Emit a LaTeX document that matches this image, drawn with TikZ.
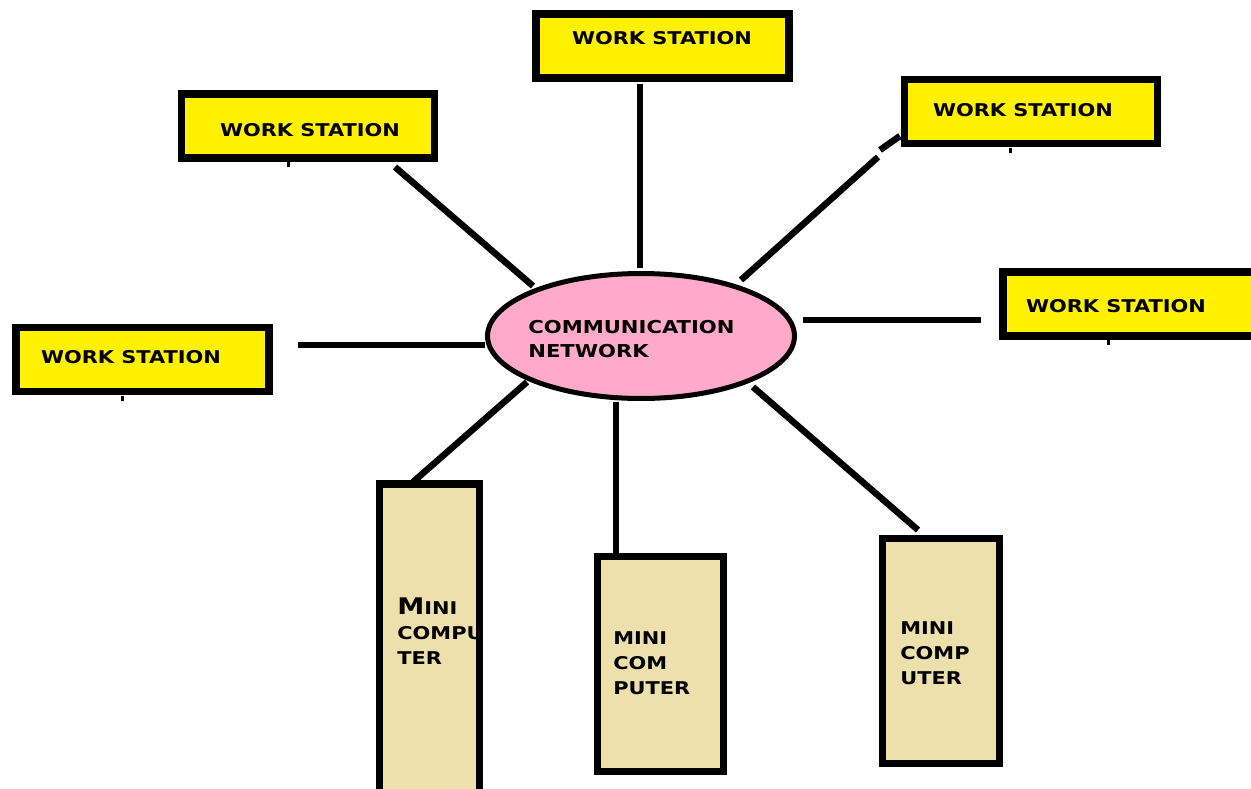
\documentclass[tikz,border=0pt]{standalone}
\usepackage{fontspec}
\usetikzlibrary{shapes.geometric}
\newfontfamily\capsfont[FakeStretch=1.19]{DejaVu Sans}
\definecolor{wsyellow}{HTML}{FFF100}
\definecolor{netpink}{HTML}{FFAAC8}
\definecolor{mctan}{HTML}{EEE0AD}
\tikzset{
  wsbox/.style={draw,line width=0.15cm,fill=wsyellow,minimum width=5.06cm,minimum height=1.28cm,inner sep=0pt},
  mcbox/.style={draw,line width=0.15cm,fill=mctan,inner sep=0pt},
  lbl/.style={font=\capsfont\bfseries\fontsize{10}{14.2}\selectfont,inner sep=0pt,align=left},
  wire/.style={line width=0.13cm},
  tick/.style={line width=0.06cm}
}
\begin{document}
\begin{tikzpicture}[x=0.02cm,y=-0.02cm]
   \useasboundingbox (0,0) rectangle (1251,788);
   \clip (0,0) rectangle (1251,788);
   % work stations
   \node[wsbox] (ws1) at (662.5,46) {};
   \node[wsbox] (ws2) at (308,126) {};
   \node[wsbox] (ws3) at (1031,111.5) {};
   \node[wsbox] (ws4) at (1129.5,304) {};
   \node[wsbox] (ws5) at (142.5,359.5) {};
   \node[lbl] (t1) at (662,38) {WORK STATION};
   \node[lbl] (t2) at (310,130) {WORK STATION};
   \node[lbl] (t3) at (1023,110) {WORK STATION};
   \node[lbl] (t4) at (1116,306) {WORK STATION};
   \node[lbl] (t5) at (131,357) {WORK STATION};
   % small marks under the boxes
   \draw[tick] (288,162) -- (288,167);
   \draw[tick] (122,396) -- (122,401);
   \draw[tick] (1010,148) -- (1010,153);
   \draw[tick] (1108,340) -- (1108,345);
   % network
   \node[draw,ellipse,line width=0.1cm,fill=netpink,minimum width=6.14cm,minimum height=2.5cm,inner sep=0pt] (net) at (641,336) {};
   \node[lbl,anchor=west,font=\capsfont\bfseries\fontsize{10.1}{13.6}\selectfont] (tnet) at (528,339) {COMMUNICATION\\NETWORK};
   % mini computers
   \node[mcbox,minimum width=2cm,minimum height=6.4cm] (mc1) at (429.5,644) {};
   \node[mcbox,minimum width=2.52cm,minimum height=4.3cm] (mc2) at (660.5,664) {};
   \node[mcbox,minimum width=2.34cm,minimum height=4.5cm] (mc3) at (941,651) {};
   \node[lbl,anchor=west] (tm1) at (397,631) {{\fontsize{13}{14}\selectfont M}INI\\COMPU\\TER};
   \node[lbl,anchor=west] (tm2) at (613,663) {MINI\\COM\\PUTER};
   \node[lbl,anchor=west] (tm3) at (900,653) {MINI\\COMP\\UTER};
   % connectors
   \coordinate (a1) at (640,84);   \coordinate (b1) at (640,268);
   \coordinate (a2) at (395,167);  \coordinate (b2) at (533,286);
   \coordinate (a3) at (878,157);  \coordinate (b3) at (741,280);
   \coordinate (a4) at (981,320);  \coordinate (b4) at (803,320);
   \coordinate (a5) at (298,345);  \coordinate (b5) at (485,345);
   \coordinate (a6) at (413,482);  \coordinate (b6) at (527,382);
   \coordinate (a7) at (616,553);  \coordinate (b7) at (616,402);
   \coordinate (a8) at (918,530);  \coordinate (b8) at (753,387);
   \foreach \i in {1,...,8}
      \draw[wire] (a\i) -- (b\i);
   \draw[wire] (880,150) -- (900,136);
\end{tikzpicture}
\end{document}
